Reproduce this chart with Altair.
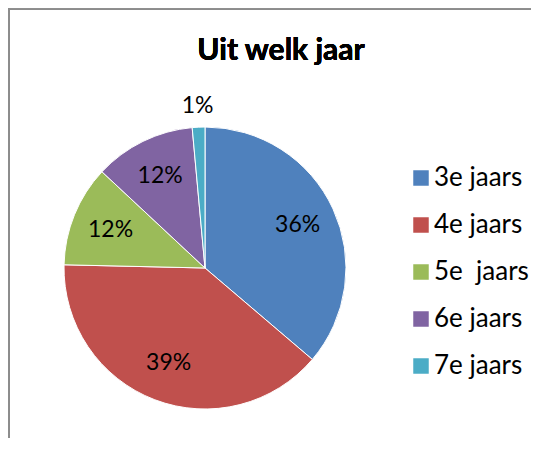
import altair as alt
import pandas as pd

categories = ["3e jaars", "4e jaars", "5e\u00a0 jaars", "6e jaars", "7e jaars"]
values = [25, 27, 8, 8, 1]
labels = ["36%", "39%", "12%", "12%", "1%"]
colors = ["#4F81BD", "#C0504D", "#9BBB59", "#8064A2", "#4BACC6"]
title_text = "Uit welk jaar"

df = pd.DataFrame({
    "cat": categories,
    "value": values,
    "label": labels,
    "idx": list(range(len(categories))),
})

W, H = 523, 430
CX, CY, R = 197, 260, 141
FONT = "Lato"

base = alt.Chart(df).encode(
    theta=alt.Theta("value:Q", stack=True),
    order=alt.Order("idx:Q"),
)

color_enc = alt.Color(
    "cat:N",
    sort=categories,
    scale=alt.Scale(domain=categories, range=colors),
    legend=alt.Legend(
        title=None,
        orient="none",
        legendX=400,
        legendY=157,
        symbolType="square",
        symbolSize=240,
        symbolStrokeWidth=0,
        labelFontSize=26,
        labelFont=FONT,
        labelColor="#000000",
        labelOffset=0,
        rowPadding=21,
        padding=0,
    ),
)

pie = base.mark_arc(radius=R, stroke="white", strokeWidth=1).encode(
    color=color_enc,
    x=alt.value(CX),
    y=alt.value(CY),
)

inner = base.mark_text(
    radius=102, fontSize=23, font=FONT, color="#000000", baseline="middle", align="center"
).encode(
    text=alt.condition(alt.datum.value > 2, "label:N", alt.value("")),
    x=alt.value(CX),
    y=alt.value(CY),
)

outer = base.mark_text(
    radius=162, fontSize=23, font=FONT, color="#000000", baseline="middle", align="center"
).encode(
    text=alt.condition(alt.datum.value <= 2, "label:N", alt.value("")),
    x=alt.value(CX),
    y=alt.value(CY),
)

title = alt.Chart(df).mark_text(
    text=title_text, fontSize=30, font=FONT, fontWeight="bold", color="#000000",
    align="center", baseline="alphabetic",
).encode(x=alt.value(273), y=alt.value(52))

left_border = alt.Chart(df).mark_rule(color="#8c8c8c", strokeWidth=1.6).encode(
    x=alt.value(1.2), y=alt.value(0), y2=alt.value(H)
)
top_border = alt.Chart(df).mark_rule(color="#8c8c8c", strokeWidth=1.6).encode(
    y=alt.value(1.2), x=alt.value(0), x2=alt.value(W)
)

chart = alt.layer(pie, inner, outer, title, left_border, top_border).properties(
    width=W,
    height=H,
    padding=0,
    autosize=alt.AutoSizeParams(type="none"),
    background="white",
).configure_view(stroke=None)

chart.save("out.html", embed_options={"renderer": "svg", "actions": False})
